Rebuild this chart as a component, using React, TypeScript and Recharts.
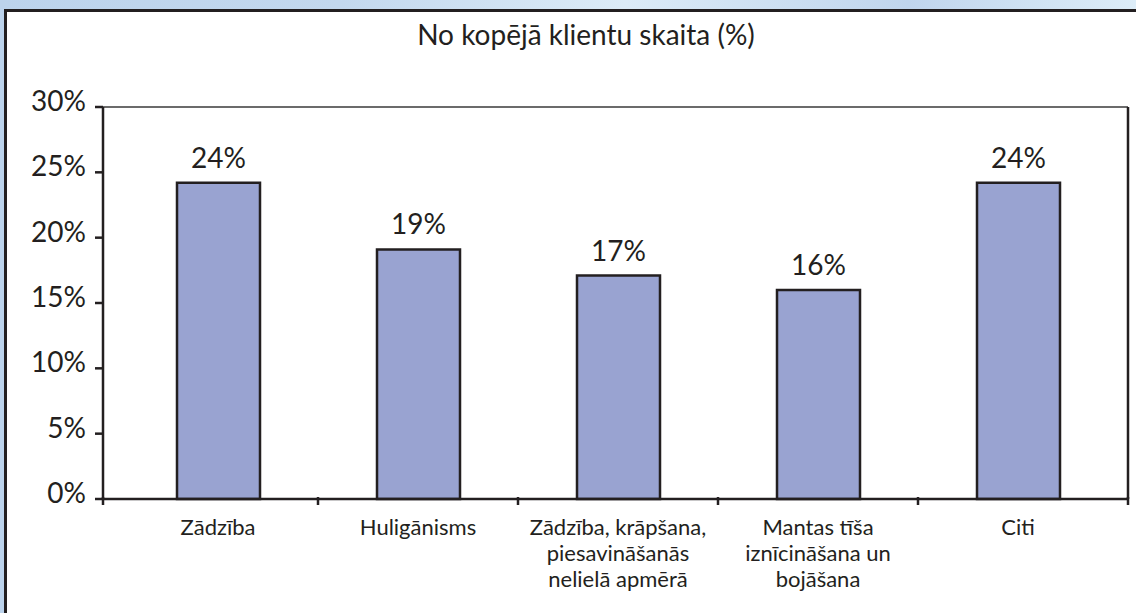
import React from "react";
import {
  BarChart,
  Bar,
  XAxis,
  YAxis,
  CartesianGrid,
  LabelList,
} from "recharts";

const categories: string[][] = [
  ["Zādzība"],
  ["Huligānisms"],
  ["Zādzība, krāpšana,", "piesavināšanās", "nelielā apmērā"],
  ["Mantas tīša", "iznīcināšana un", "bojāšana"],
  ["Citi"],
];
const values: number[] = [24.2, 19.1, 17.1, 16.0, 24.2];
const yTicks: number[] = [0, 5, 10, 15, 20, 25, 30];
const title = "No kopējā klientu skaita (%)";

const data = categories.map((lines, i) => ({
  name: lines.join(" "),
  lines,
  value: values[i],
}));

const FONT = "Lato, 'Open Sans', sans-serif";
const INK = "#231F20";
const W = 1136;
const H = 613;
const PAD_L = 15;
const PAD_R = 10;
const Y_W = 103;
const M_R = 8;
const BAND = (W - Y_W - M_R - PAD_L - PAD_R) / categories.length;

const XTick = (props: any) => {
  const { x, y, payload, index } = props;
  const i = payload.index ?? index;
  const lines: string[] = categories[i] || [payload.value];
  const marks: number[] = [];
  if (i === 0) marks.push(-BAND / 2 - PAD_L);
  else marks.push(-BAND / 2);
  if (i === categories.length - 1) marks.push(BAND / 2 + PAD_R);
  const axisY = y - 10;
  return (
    <g>
      {marks.map((m, k) => (
        <line
          key={k}
          x1={x + m}
          x2={x + m}
          y1={axisY}
          y2={axisY + 8}
          stroke={INK}
          strokeWidth={2.5}
        />
      ))}
      <text
        x={x}
        y={axisY + 38}
        textAnchor="middle"
        fill={INK}
        fontSize={22}
        fontFamily={FONT}
      >
        {lines.map((l, k) => (
          <tspan key={k} x={x} dy={k === 0 ? 0 : 26}>
            {l}
          </tspan>
        ))}
      </text>
    </g>
  );
};

const YTick = (props: any) => {
  const { x, y, payload } = props;
  return (
    <text
      x={x}
      y={y + 4}
      textAnchor="end"
      fill={INK}
      fontSize={28}
      fontFamily={FONT}
    >
      {`${payload.value}%`}
    </text>
  );
};

export default function App() {
  return (
    <div
      style={{
        position: "absolute",
        left: 0,
        top: 0,
        width: W,
        height: H,
        overflow: "hidden",
        background:
          "linear-gradient(90deg, #BCD3EC 0%, #C3D8EE 30%, #DCEBF7 55%, #C0D5ED 80%, #DDEDF8 100%)",
      }}
    >
      <div
        style={{
          position: "absolute",
          left: 4,
          top: 9,
          width: W + 20,
          height: H + 20,
          background: "#fff",
          border: `3px solid ${INK}`,
          boxSizing: "border-box",
        }}
      />
      <div
        style={{
          position: "absolute",
          left: 0,
          top: 18,
          width: W + 36,
          textAlign: "center",
          fontFamily: FONT,
          fontSize: 28,
          lineHeight: 1.2,
          color: INK,
        }}
      >
        {title}
      </div>
      <div style={{ position: "absolute", left: 0, top: 0 }}>
        <BarChart
          width={W}
          height={H}
          data={data}
          margin={{ top: 107, right: 0, bottom: 14, left: 0 }}
          barCategoryGap={0}
        >
          <CartesianGrid
            vertical={false}
            stroke="#3a3a3a"
            strokeWidth={1.3}
          />
          <XAxis
            dataKey="name"
            interval={0}
            height={100}
            padding={{ left: PAD_L, right: PAD_R }}
            axisLine={{ stroke: INK, strokeWidth: 2.5 }}
            tickLine={false}
            tick={<XTick />}
          />
          <YAxis
            yAxisId="l"
            width={Y_W}
            domain={[0, 30]}
            ticks={yTicks}
            interval={0}
            axisLine={{ stroke: INK, strokeWidth: 2.5 }}
            tickLine={{ stroke: INK, strokeWidth: 2.5 }}
            tickSize={8}
            tickMargin={9}
            tick={<YTick />}
          />
          <YAxis
            yAxisId="r"
            orientation="right"
            width={M_R}
            domain={[0, 30]}
            tick={false}
            tickLine={false}
            axisLine={{ stroke: INK, strokeWidth: 2.5 }}
          />
          <Bar
            yAxisId="l"
            dataKey="value"
            fill="#99A3D1"
            stroke={INK}
            strokeWidth={2.5}
            barSize={83}
            isAnimationActive={false}
          >
            <LabelList
              dataKey="value"
              position="top"
              offset={15}
              fill={INK}
              fontSize={28}
              fontFamily={FONT}
              formatter={(v: any) => `${Math.round(Number(v))}%`}
            />
          </Bar>
        </BarChart>
      </div>
    </div>
  );
}
